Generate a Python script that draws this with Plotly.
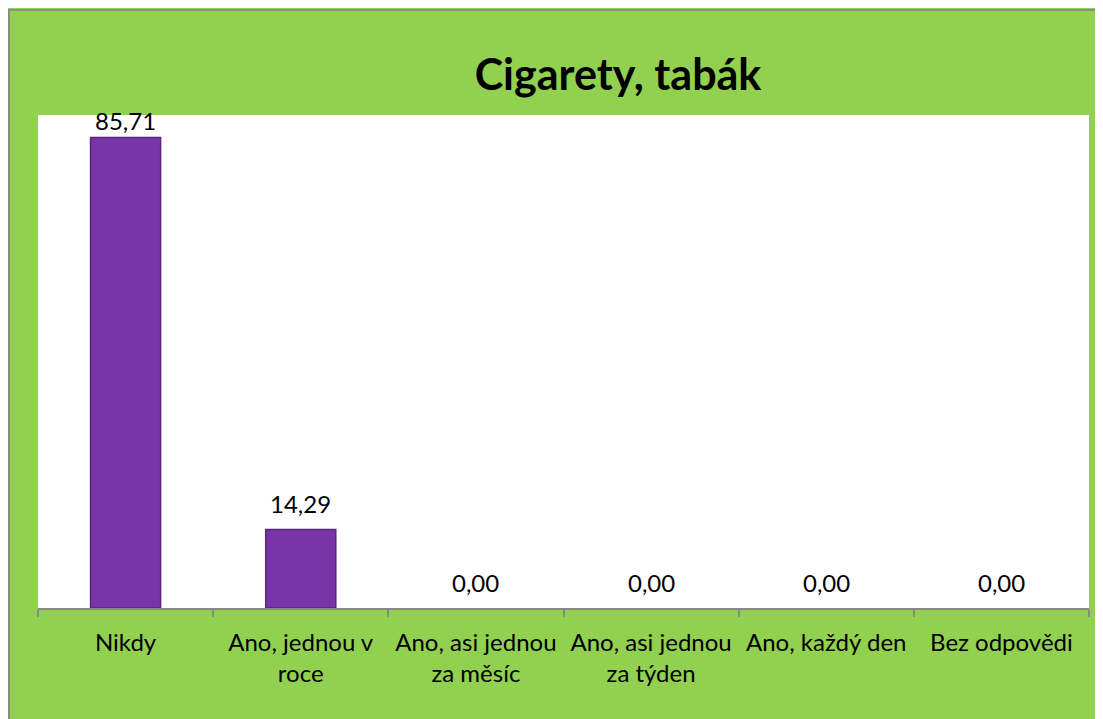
import plotly.graph_objects as go

# ---- data ----
categories = ["Nikdy", "Ano, jednou v<br>roce", "Ano, asi jednou<br>za měsíc",
              "Ano, asi jednou<br>za týden", "Ano, každý den", "Bez odpovědi"]
values = [85.71, 14.29, 0.00, 0.00, 0.00, 0.00]
value_labels = ["85,71", "14,29", "0,00", "0,00", "0,00", "0,00"]
title_text = "Cigarety, tabák"

# page body has an 8px margin; figure is laid out in its own pixel space
W, H = 1095, 711
L, R, T, B = 30, 14, 107, 111
FONT = "Lato"

fig = go.Figure()
fig.add_trace(go.Bar(
    x=categories, y=values,
    marker=dict(color="#7934A8",
                line=dict(color="#5A2683", width=[1.5 if v > 0 else 0 for v in values])),
    width=0.4,
    hoverinfo="skip",
))

ymax = 89.8
annotations = []
for c, v, lab in zip(categories, values, value_labels):
    shift = 17 if v > 0.9 * max(values) else 26
    annotations.append(dict(x=c, y=v, xref="x", yref="y", text=lab, showarrow=False,
                            yanchor="middle", yshift=shift,
                            font=dict(family=FONT, size=24, color="#000000")))

ph = H - T - B
pw = W - L - R
shapes = [dict(type="rect", xref="paper", yref="paper",
               x0=(1 - L) / pw, x1=1.5, y0=-0.5, y1=1 + (T - 2) / ph,
               line=dict(color="#8C8C8C", width=2), fillcolor="rgba(0,0,0,0)", layer="below")]

fig.update_layout(
    width=W, height=H,
    margin=dict(l=L, r=R, t=T, b=B, autoexpand=False),
    paper_bgcolor="#92D050",
    plot_bgcolor="#FFFFFF",
    showlegend=False,
    title=dict(text="<b>" + title_text + "</b>", x=610 / W, xanchor="center",
               y=1 - 67 / H, yanchor="middle", yref="container",
               font=dict(family=FONT, size=43, color="#000000")),
    xaxis=dict(showline=True, linecolor="#898989", linewidth=1.5,
               ticks="outside", ticklen=7, tickcolor="#898989", tickwidth=1.5,
               tickson="boundaries", showgrid=False, zeroline=False,
               tickfont=dict(family=FONT, size=24, color="#000000"),
               ticklabelstandoff=12),
    yaxis=dict(range=[0, ymax], visible=False, showgrid=False, zeroline=False),
    annotations=annotations,
    shapes=shapes,
)

fig.write_html("out.html")
